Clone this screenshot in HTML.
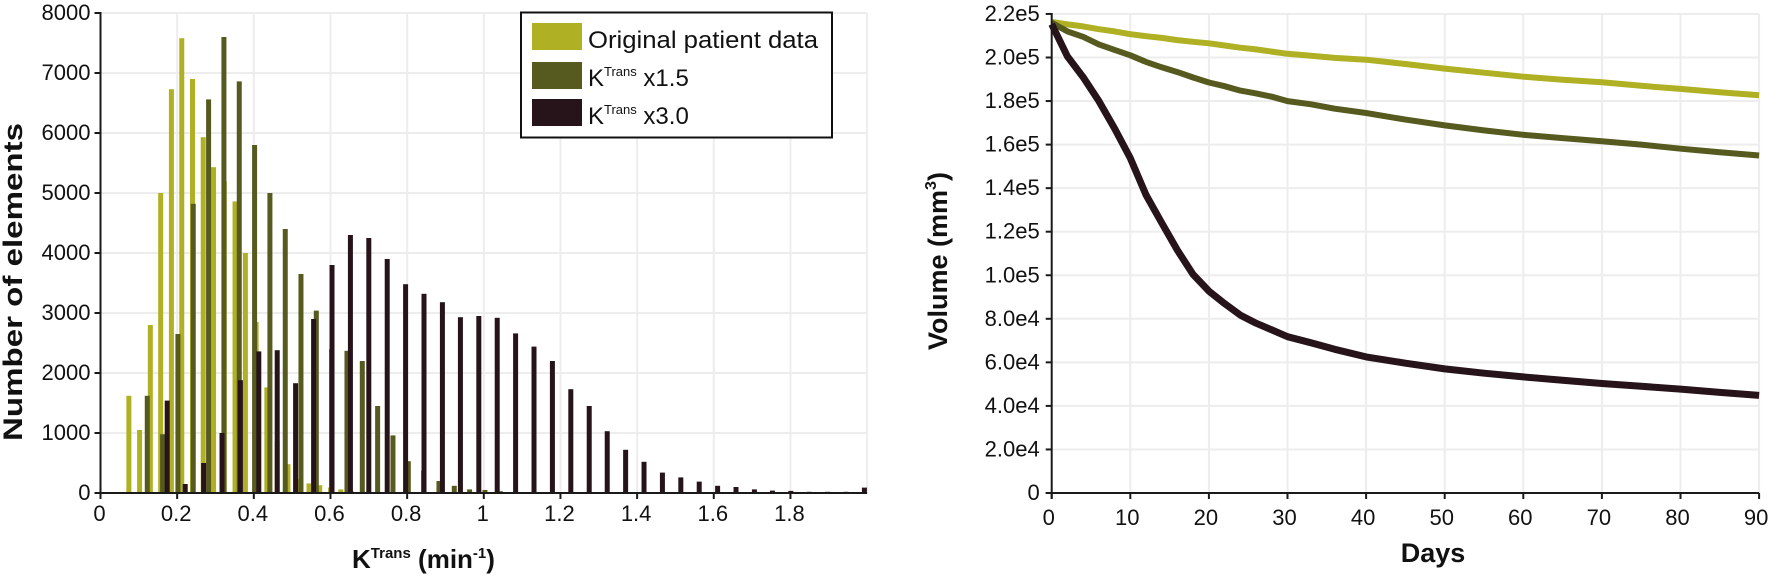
<!DOCTYPE html>
<html><head><meta charset="utf-8"><style>
html,body{margin:0;padding:0;background:#fff;}
svg{display:block;font-family:"Liberation Sans",Arial,sans-serif;}
</style></head><body>
<svg id="root" width="1772" height="580" viewBox="0 0 1772 580" xmlns="http://www.w3.org/2000/svg">
  <g id="histo"></g>
  <g id="lines"></g>
</svg>
<script>
// ---------- Histogram data ----------
const origCenters = [0.074,0.102,0.130,0.157,0.185,0.212,0.240,0.268,0.295,0.323,0.351,0.378,0.406,0.434,0.461,0.489,0.517,0.544,0.572,0.600,0.627,0.655,0.683,0.710,0.738];
const origCounts  = [1620,1050,2800,5000,6730,7580,6900,5930,5430,5200,4860,4000,2850,1760,870,480,230,160,130,90,60,30,20,10,5];
const x15Centers = [0.122,0.162,0.202,0.242,0.282,0.322,0.362,0.402,0.442,0.482,0.523,0.563,0.603,0.643,0.683,0.723,0.763,0.803,0.843,0.883,0.923,0.963,1.003,1.043,1.083];
const x15Counts  = [1620,980,2650,4820,6560,7600,6860,5800,5000,4400,3650,3040,2400,2370,2200,1450,960,530,370,200,120,60,50,30,20];
const x30Centers = [0.174,0.221,0.269,0.317,0.365,0.413,0.461,0.509,0.556,0.604,0.652,0.700,0.748,0.796,0.844,0.892,0.939,0.987,1.035,1.083,1.131,1.179,1.227,1.275,1.322,1.370,1.418,1.466,1.514,1.562,1.610,1.658,1.706,1.753,1.801,1.849,1.897,1.945,1.993];
const x30Counts  = [1540,150,500,1000,1880,2360,2380,1830,2900,3800,4300,4250,3900,3480,3320,3180,2930,2950,2920,2660,2440,2200,1730,1450,1030,720,520,340,260,190,120,100,60,40,35,20,20,20,90];
const histXTicks = [0,0.2,0.4,0.6,0.8,1.0,1.2,1.4,1.6,1.8];
const histXTickLabels = ["0","0.2","0.4","0.6","0.8","1","1.2","1.4","1.6","1.8"];
const histYTicks = [0,1000,2000,3000,4000,5000,6000,7000,8000];

// ---------- Line chart data ----------
const days = [0,2,4,6,8,10,12,14,16,18,20,22,24,26,28,30,33,36,40,45,50,55,60,65,70,75,80,85,90];
const volOrig = [216300,215200,214300,213000,212000,210700,209800,209000,208000,207200,206500,205500,204500,203700,202700,201700,200800,199800,199000,197000,194900,193000,191200,189800,188600,187000,185600,184000,182700];
const volX15  = [216000,212000,209500,206000,203500,201000,198000,195500,193300,190800,188500,186800,184800,183500,182000,180000,178500,176500,174500,171500,168800,166500,164500,163000,161500,160000,158100,156500,155000];
const volX30  = [215300,200500,191000,180000,167400,153800,136900,124100,111400,100300,92700,87000,81700,78000,74900,71800,69000,66000,62500,59600,57000,55000,53300,51800,50300,49000,47700,46200,44800];
const lineXTicks = [0,10,20,30,40,50,60,70,80,90];
const lineYTicks = [0,20000,40000,60000,80000,100000,120000,140000,160000,180000,200000,220000];
const lineYTickLabels = ["0","2.0e4","4.0e4","6.0e4","8.0e4","1.0e5","1.2e5","1.4e5","1.6e5","1.8e5","2.0e5","2.2e5"];

const NS = "http://www.w3.org/2000/svg";
function mk(parent, tag, attrs, text){
  const e = document.createElementNS(NS, tag);
  for (const k in attrs) e.setAttribute(k, attrs[k]);
  if (text !== undefined) e.textContent = text;
  parent.appendChild(e);
  return e;
}
const C_ORIG = "#afb023", C_X15 = "#565a1f", C_X30 = "#26141a";
const GRID = "#ededed", AX = "#1a1a1a";

// ===== Histogram =====
const H = document.getElementById("histo");
const hx = v => 100.5 + v * 383.3;
const hy = v => 493 - v * 0.06;
const hxMax = 2.0;
histYTicks.forEach((t,i) => {
  if (t === 0) return;
  const l = mk(H,"line",{x1:hx(0),x2:hx(hxMax),y1:hy(t),y2:hy(t),stroke:GRID,"stroke-width":2});
  
  
});
histXTicks.concat([2.0]).forEach(t => {
  if (t === 0) return;
  const l = mk(H,"line",{x1:hx(t),x2:hx(t),y1:hy(8000),y2:hy(0),stroke:GRID,"stroke-width":2});
  
  
});
function bars(centers, counts, color, name){
  const g = mk(H,"g",{});
  
  
  centers.forEach((c,i) => {
    const y = hy(counts[i]);
    const r = mk(g,"rect",{x:hx(c)-2.5,y:y,width:5,height:Math.max(0,hy(0)-y),fill:color});
    
    
  });
}
bars(origCenters, origCounts, C_ORIG, 'original');
bars(x15Centers, x15Counts, C_X15, 'ktrans-x1-5');
bars(x30Centers, x30Counts, C_X30, 'ktrans-x3-0');
let e;
e = mk(H,"line",{x1:hx(0),x2:hx(0),y1:hy(8000)-1,y2:hy(0)+6,stroke:AX,"stroke-width":2});
 
e = mk(H,"line",{x1:hx(0)-6,x2:hx(hxMax),y1:hy(0),y2:hy(0),stroke:AX,"stroke-width":2});
 
histYTicks.forEach(t => {
  mk(H,"line",{x1:hx(0)-6,x2:hx(0),y1:hy(t),y2:hy(t),stroke:AX,"stroke-width":2});
  const tx = mk(H,"text",{x:hx(0)-10,y:hy(t)+7,"font-size":22,"text-anchor":"end",fill:"#111"}, String(t));
  
  
});
histXTicks.forEach((t,i) => {
  mk(H,"line",{x1:hx(t),x2:hx(t),y1:hy(0),y2:hy(0)+6,stroke:AX,"stroke-width":2});
  const tx = mk(H,"text",{x:hx(t)-1,y:521,"font-size":22,"text-anchor":"middle",fill:"#111"}, histXTickLabels[i]);
  
  
});
e = mk(H,"text",{x:0,y:0,"font-size":27,"font-weight":"bold","text-anchor":"middle",fill:"#111",transform:"translate(22,282) rotate(-90)",textLength:318,lengthAdjust:"spacingAndGlyphs"},"Number of elements");
 
e = mk(H,"text",{x:352,y:568,"font-size":26,"font-weight":"bold",fill:"#111"});
 
mk(e,"tspan",{},"K");
mk(e,"tspan",{"font-size":15,dy:-10},"Trans");
mk(e,"tspan",{dy:10}," (min");
mk(e,"tspan",{"font-size":15,dy:-10},"-1");
mk(e,"tspan",{dy:10},")");
const L = mk(H,"g",{});
 
mk(L,"rect",{x:521,y:12.5,width:311,height:125,fill:"#fff",stroke:"#111","stroke-width":2});
const legRows = [[C_ORIG,"Original patient data",23,48,'legend-entry-original'],[C_X15,"x1.5",62,86,'legend-entry-x1-5'],[C_X30,"x3.0",99,124,'legend-entry-x3-0']];
legRows.forEach((r,i) => {
  const g = mk(L,"g",{});
  
  
  mk(g,"rect",{x:532,y:r[2],width:50,height:27,fill:r[0]});
  if (i === 0) {
    mk(g,"text",{x:588,y:r[3],"font-size":24,fill:"#111",textLength:230,lengthAdjust:"spacingAndGlyphs"},r[1]);
  } else {
    const t = mk(g,"text",{x:588,y:r[3],"font-size":24,fill:"#111"});
    mk(t,"tspan",{},"K");
    mk(t,"tspan",{"font-size":13,dy:-10},"Trans");
    mk(t,"tspan",{dy:10}," " + r[1]);
  }
});

// ===== Line chart =====
const G = document.getElementById("lines");
const lx = d => 1051.7 + d * 7.86;
const ly = v => 493 - v * (43.55 / 20000);
lineYTicks.forEach(t => {
  if (t === 0) return;
  const l = mk(G,"line",{x1:lx(0),x2:lx(90),y1:ly(t),y2:ly(t),stroke:GRID,"stroke-width":2});
  
  
});
lineXTicks.forEach(t => {
  if (t === 0) return;
  const l = mk(G,"line",{x1:lx(t),x2:lx(t),y1:ly(220000),y2:ly(0),stroke:GRID,"stroke-width":2});
  
  
});
function series(vals, color, w, name){
  const d = days.map((dd,i) => (i ? "L" : "M") + lx(dd).toFixed(1) + " " + ly(vals[i]).toFixed(1)).join(" ");
  const p = mk(G,"path",{d:d,fill:"none",stroke:color,"stroke-width":w,"stroke-linejoin":"round","stroke-linecap":"butt"});
  
  
}
series(volOrig, C_ORIG, 6, 'line-original');
series(volX15, C_X15, 6, 'line-ktrans-x1-5');
series(volX30, C_X30, 7, 'line-ktrans-x3-0');
e = mk(G,"line",{x1:lx(0),x2:lx(0),y1:ly(220000)-1,y2:ly(0)+6,stroke:AX,"stroke-width":2});
 
e = mk(G,"line",{x1:lx(0)-6,x2:lx(90),y1:ly(0),y2:ly(0),stroke:AX,"stroke-width":2});
 
lineYTicks.forEach((t,i) => {
  mk(G,"line",{x1:lx(0)-6,x2:lx(0),y1:ly(t),y2:ly(t),stroke:AX,"stroke-width":2});
  const tx = mk(G,"text",{x:lx(0)-12,y:ly(t)+7,"font-size":22,"text-anchor":"end",fill:"#111"}, lineYTickLabels[i]);
  
  
});
lineXTicks.forEach(t => {
  mk(G,"line",{x1:lx(t),x2:lx(t),y1:ly(0),y2:ly(0)+6,stroke:AX,"stroke-width":2});
  const tx = mk(G,"text",{x:lx(t)-3,y:525,"font-size":22,"text-anchor":"middle",fill:"#111"}, String(t));
  
  
});
e = mk(G,"text",{x:0,y:0,"font-size":27,"font-weight":"bold","text-anchor":"middle",fill:"#111",transform:"translate(947,261) rotate(-90)"});
 
mk(e,"tspan",{},"Volume (mm");
mk(e,"tspan",{"font-size":16,dy:-11},"3");
mk(e,"tspan",{dy:11},")");
e = mk(G,"text",{x:1433,y:562,"font-size":27,"font-weight":"bold","text-anchor":"middle",fill:"#111"},"Days");
 
</script>
</body></html>
